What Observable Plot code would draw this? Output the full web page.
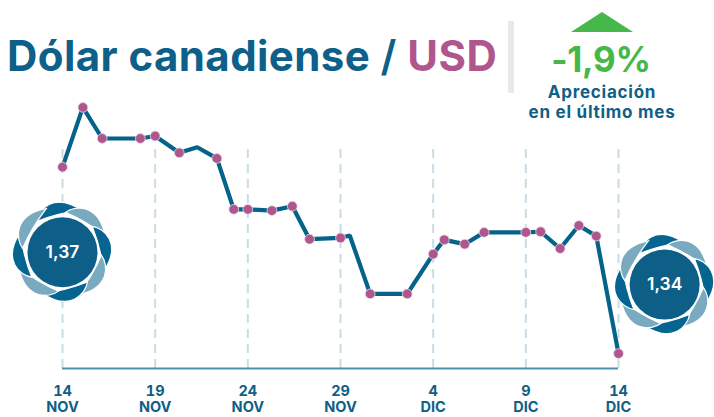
<!DOCTYPE html>
<html><head><meta charset="utf-8">
<script src="https://cdn.jsdelivr.net/npm/d3@7"></script>
<script src="https://cdn.jsdelivr.net/npm/@observablehq/plot@0.6"></script>
<style>
html,body{margin:0;padding:0;background:#fff;width:714px;height:417px;overflow:hidden}
#wrap{position:relative;width:714px;height:417px;font-family:Inter,sans-serif}
#wrap svg{display:block}
.o{position:absolute;white-space:nowrap;line-height:1}
</style></head><body>
<div id="wrap">
<div class="o" style="left:7px;top:35px;font-size:42px;font-weight:700;color:#0c6089;letter-spacing:.42px">Dólar canadiense <span style="font-weight:600">/</span> <span style="color:#b0568f">USD</span></div>
<div class="o" style="left:508px;top:21px;width:6px;height:72px;background:#e9e9e9"></div>
<div class="o" style="left:571px;top:12px;width:0;height:0;border-left:31px solid transparent;border-right:31px solid transparent;border-bottom:20px solid #46b749"></div>
<div class="o" style="left:501px;width:200px;text-align:center;top:42px;font-size:35px;font-weight:700;color:#46b749;letter-spacing:-.3px">-1,9%</div>
<div class="o" style="left:502px;width:200px;text-align:center;top:82px;font-size:17px;font-weight:700;color:#0f5f87;line-height:20px;letter-spacing:.75px">Apreciación<br>en el último mes</div>
</div>
<script>
const days = [0,1.1,2.14,4.2,5,6.3,7.27,8.33,9.24,10,11.3,12.4,13.33,15,15.5,16.6,18.6,20,20.6,21.7,22.75,25,25.8,26.85,27.86,28.8,30];
const values = [1.37,1.3796,1.3746,1.3746,1.375,1.3723,1.3732,1.3714,1.3632,1.3632,1.363,1.3637,1.3584,1.3586,1.359,1.3496,1.3496,1.356,1.3583,1.3576,1.3595,1.3595,1.3596,1.3569,1.3606,1.3589,1.34];
const unmarkedDays = [7.27,15.5];
const tickDays = [0,5,10,15,20,25,30];
const tickDates = ["14","19","24","29","4","9","14"];
const tickMonths = ["NOV","NOV","NOV","NOV","DIC","DIC","DIC"];
const badgeDays = [0,32.49];
const badgeValues = [1.3563,1.3511];
const badgeLabels = ["1,37","1,34"];
const vBottom = 1.3376, vTop = 1.3968, gridTop = 1.373;

const pol = (r,deg)=>{const a=(deg-90)*Math.PI/180;return `${(r*Math.cos(a)).toFixed(2)},${(r*Math.sin(a)).toFixed(2)}`;};
const petal = `M${pol(39.5,-40)}C${pol(48,-30)} ${pol(61,-8)} ${pol(46,25)}Q${pol(39,-6)} ${pol(39.5,-40)}Z`;

const rosettes = (index,{x,y})=>{
  const g = d3.create("svg:g");
  badgeDays.forEach((d,i)=>{
    const n = g.append("g").attr("transform",`translate(${x(d)},${y(badgeValues[i])})`);
    for(let k=0;k<8;k++){
      n.append("path").attr("d",petal).attr("transform",`rotate(${k*45})`)
       .attr("fill",k%2?"#7aaabf":"#056590").attr("stroke","#fff").attr("stroke-width",1.2);
    }
  });
  return g.node();
};

const chart = Plot.plot({
  width:714,height:417,marginLeft:62,marginRight:96,marginTop:0,marginBottom:49,
  x:{domain:[0,30],axis:null},
  y:{domain:[vBottom,vTop],axis:null},
  style:{background:"transparent",fontFamily:"Inter,sans-serif"},
  marks:[
    Plot.ruleX(tickDays,{y1:vBottom,y2:gridTop,stroke:"#c9dde6",strokeWidth:2,strokeDasharray:"9,6"}),
    Plot.ruleY([vBottom],{x1:0,x2:30,stroke:"#4d90b0",strokeWidth:2}),
    Plot.line(days.map((d,i)=>i),{x:i=>days[i],y:i=>values[i],stroke:"#056289",strokeWidth:4.2,strokeLinejoin:"miter"}),
    Plot.dot(days.map((d,i)=>i).filter(i=>!unmarkedDays.includes(days[i])),{x:i=>days[i],y:i=>values[i],r:4.9,fill:"#b0568f",stroke:"#e8dbe5",strokeWidth:.8}),
    Plot.dot(badgeDays,{x:d=>d,y:(d,i)=>badgeValues[i],r:48,fill:"#fff"}),
    rosettes,
    Plot.dot(badgeDays,{x:d=>d,y:(d,i)=>badgeValues[i],r:35,fill:"#0d5f87"}),
    Plot.text(badgeLabels,{x:(d,i)=>badgeDays[i],y:(d,i)=>badgeValues[i],text:d=>d,fill:"#fff",fontSize:17.5,fontWeight:600}),
    Plot.axisX({ticks:tickDays,tickSize:0,tickPadding:16,label:null,
      tickFormat:d=>{const i=tickDays.indexOf(d);return tickDates[i]+"\n"+tickMonths[i];},
      fill:"#0f5f87",fontSize:14.5,fontWeight:700,lineHeight:1.1})
  ]
});
document.getElementById("wrap").prepend(chart);
chart.style.position="absolute";chart.style.left="0";chart.style.top="0";
</script>
</body></html>
